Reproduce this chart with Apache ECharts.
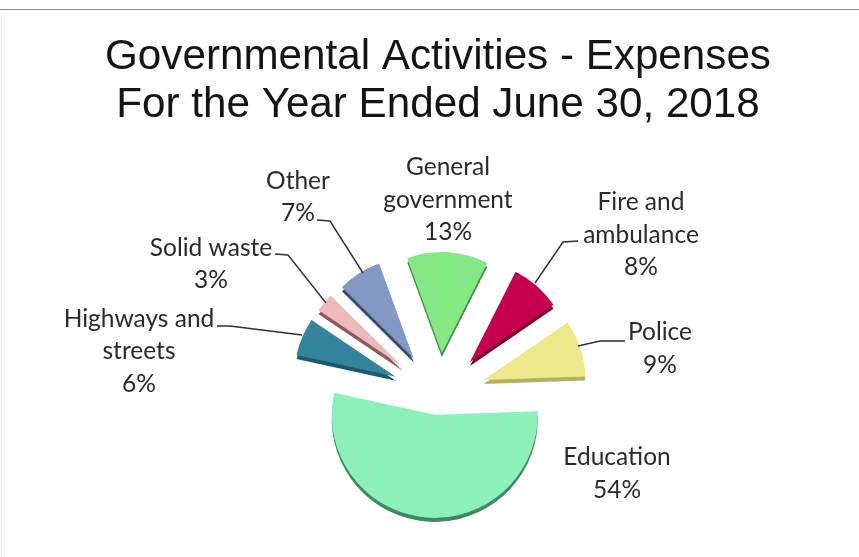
<!DOCTYPE html>
<html>
<head>
<meta charset="utf-8">
<style>html,body{margin:0;padding:0;background:#fff}#chart{width:859px;height:557px}</style>
<script src="https://cdn.jsdelivr.net/npm/echarts@6/dist/echarts.min.js"></script>
</head>
<body>
<div id="chart"></div>
<script>
// Expense shares, clockwise from the top slice.
const categories = ['General\ngovernment', 'Fire and\nambulance', 'Police', 'Education', 'Highways and\nstreets', 'Solid waste', 'Other'];
const shares = [13, 8, 9, 54, 6, 3, 7];
const topColors = ['#84E884', '#C4004F', '#EDE88A', '#8CF0BA', '#34849E', '#EDB9BA', '#8398C4'];
const rimColors = ['#4C8C50', '#7C0032', '#B5B062', '#3C8A60', '#1E5A6E', '#8C5A5A', '#3A4A70'];

const titleLines = ['Governmental Activities - Expenses', 'For the Year Ended June 30, 2018'];

// Label block centres and leader paths, in the same order as the categories.
const labelCentres = [[448, 200], [641, 235], [660, 348.5], [617, 473.5], [139, 351.5], [211, 264], [298, 197]];
const leaders = [
  null,
  [[578, 241], [563, 242], [535, 283]],
  [[625, 341], [600, 341], [578, 346]],
  null,
  [[217, 326], [230, 326], [302, 335]],
  [[275, 254], [288, 255], [326, 303]],
  [[317, 220], [330, 221], [363, 273]]
];

const startFromNorth = -20;          // degrees clockwise from twelve o'clock
const centre = [439, 384];
const explodeX = 47, explodeY = 31;  // the tilted view compresses the explosion vertically
const baseRadius = 102;
const rimDepth = 4;

const total = shares.reduce((a, b) => a + b, 0);
const rad = d => d * Math.PI / 180;

function renderSlice(params, api) {
  const i = params.dataIndex;
  const before = shares.slice(0, i).reduce((a, b) => a + b, 0);
  const from = startFromNorth + before / total * 360;
  const to = from + api.value(0) / total * 360;
  const mid = rad((from + to) / 2);
  const s = Math.sin(mid), c = Math.cos(mid);

  // Exploded apex; slices at the sides sit a little lower in the tilted view.
  const x = centre[0] + explodeX * s;
  const y = centre[1] - explodeY * c + 7 * s * s * s * s;
  // Slices nearer the viewer look slightly larger.
  const r = baseRadius * (1 - 0.01 * c);
  const shape = { cx: x, cy: y, r: r, r0: 0, startAngle: rad(from - 90), endAngle: rad(to - 90), clockwise: true };

  const children = [
    { type: 'sector', z2: 1, shape: Object.assign({}, shape, { cy: y + rimDepth }), style: { fill: rimColors[i] } },
    { type: 'sector', z2: 2, shape: shape, style: { fill: topColors[i] } }
  ];
  if (leaders[i]) {
    children.push({
      type: 'polyline', z2: 3, shape: { points: leaders[i] },
      style: { fill: null, stroke: '#303030', lineWidth: 1.4 }
    });
  }
  children.push({
    type: 'text', z2: 4,
    x: labelCentres[i][0], y: labelCentres[i][1],
    style: {
      text: categories[i] + '\n' + api.value(0) + '%',
      fill: '#2a2a2a', font: '24.5px Lato', lineHeight: 32.5,
      align: 'center', verticalAlign: 'middle'
    }
  });
  return { type: 'group', children: children };
}

const chart = echarts.init(document.getElementById('chart'), null, { renderer: 'canvas' });
chart.setOption({
  animation: false,
  backgroundColor: '#ffffff',
  title: {
    text: titleLines.join('\n'),
    left: 433, top: 28, textAlign: 'center',
    textStyle: { fontFamily: 'Liberation Sans', fontSize: 42.2, fontWeight: 'normal', color: '#141414', lineHeight: 48 }
  },
  graphic: [
    { type: 'line', shape: { x1: 0, y1: 9.5, x2: 859, y2: 9.5 }, style: { stroke: '#8c8c8c', lineWidth: 1 } },
    { type: 'line', shape: { x1: 1.5, y1: 10, x2: 1.5, y2: 557 }, style: { stroke: '#efefef', lineWidth: 1 } }
  ],
  series: [{
    type: 'custom',
    coordinateSystem: 'none',
    data: shares,
    renderItem: renderSlice
  }]
});
</script>
</body>
</html>
